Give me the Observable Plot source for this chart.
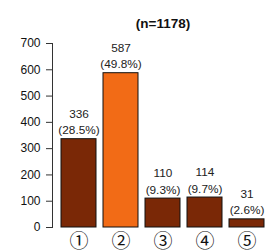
<!DOCTYPE html>
<html>
<head>
<meta charset="utf-8">
<script src="https://cdn.jsdelivr.net/npm/d3@7"></script>
<script src="https://cdn.jsdelivr.net/npm/@observablehq/plot@0.6"></script>
<style>
  html, body { margin: 0; padding: 0; background: #fff; }
  svg { display: block; }
</style>
</head>
<body>
<div id="chart"></div>
<script>
const categories = ["①", "②", "③", "④", "⑤"];
const counts = [336, 587, 110, 114, 31];
const percents = ["28.5%", "49.8%", "9.3%", "9.7%", "2.6%"];
const highlight = [false, true, false, false, false];
const yTicks = [0, 100, 200, 300, 400, 500, 600, 700];
const titleText = "(n=1178)";

const data = categories.map((c, i) => ({
  cat: c,
  n: counts[i],
  label: `${counts[i]}\n(${percents[i]})`,
  hi: highlight[i]
}));

const chart = Plot.plot({
  width: 269,
  height: 252,
  marginTop: 43,
  marginBottom: 25,
  marginLeft: 52,
  marginRight: 0,
  style: { fontFamily: "'Liberation Sans', Arial, 'Noto Sans CJK JP', sans-serif", background: "#fff" },
  x: { domain: categories, range: [56, 269], paddingInner: 0.16, paddingOuter: 0.086 },
  y: { domain: [0, 700], ticks: yTicks },
  marks: [
    Plot.axisY({ ticks: yTicks, tickSize: 6, tickPadding: 6, fontSize: 12, label: null, stroke: "#333", color: "#111" }),
    Plot.frame({ anchor: "left", stroke: "#333" }),
    Plot.axisX({ tickSize: 0, tickPadding: 6.5, fontSize: 19, label: null, fontFamily: "'Noto Sans CJK JP', sans-serif", color: "#111" }),
    Plot.barY(data, { x: "cat", y: "n", fill: d => d.hi ? "#F26B16" : "#7A2806", stroke: "#111", strokeWidth: 1 }),
    Plot.text(data, { x: "cat", y: "n", text: "label", dy: -5, lineAnchor: "bottom", lineHeight: 1.4, fontSize: 11.8, fill: "#222" }),
    Plot.text([titleText], { frameAnchor: "top", dy: -25, dx: 2, fontSize: 13.5, fontWeight: "bold", fill: "#111" })
  ]
});
document.getElementById("chart").appendChild(chart);
</script>
</body>
</html>
